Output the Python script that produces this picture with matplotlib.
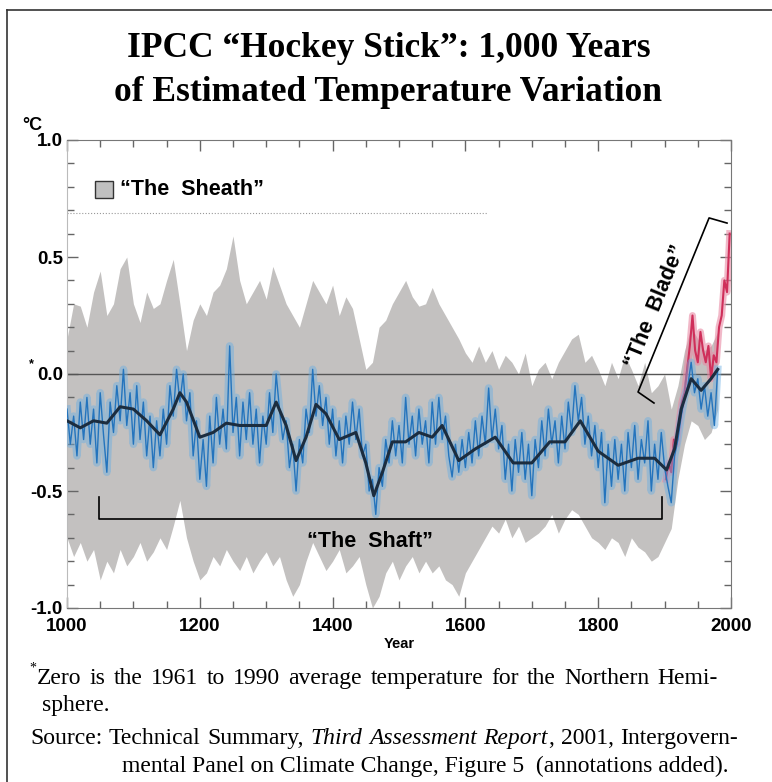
import numpy as np
import matplotlib.pyplot as plt
from matplotlib.patches import Rectangle
from matplotlib.lines import Line2D
from matplotlib.ticker import MultipleLocator

# annual reconstruction (read every 5 years)
years = np.arange(1000, 1985, 5)
recon = [-0.15, -0.30, -0.18, -0.35, -0.12, -0.28, -0.10, -0.30, -0.15, -0.38,
         -0.08, -0.26, -0.42, -0.12, -0.25, -0.05, -0.20, 0.02, -0.22, -0.08,
         -0.30, -0.05, -0.28, -0.12, -0.35, -0.18, -0.40, -0.20, -0.35, -0.15,
         -0.30, -0.05, -0.18, 0.02, -0.12, 0.00, -0.20, -0.08, -0.35, -0.20,
         -0.45, -0.28, -0.48, -0.18, -0.38, -0.10, -0.30, -0.15, -0.32, 0.12,
         -0.25, -0.10, -0.35, -0.12, -0.28, -0.08, -0.30, -0.15, -0.38, -0.18,
         -0.30, -0.08, -0.25, 0.00, -0.15, -0.28, -0.20, -0.40, -0.30, -0.50,
         -0.28, -0.38, -0.15, -0.25, 0.02, -0.18, -0.05, -0.22, -0.10, -0.30,
         -0.15, -0.35, -0.20, -0.38, -0.18, -0.30, -0.12, -0.28, -0.15, -0.35,
         -0.30, -0.50, -0.45, -0.60, -0.40, -0.48, -0.28, -0.38, -0.20, -0.35,
         -0.22, -0.38, -0.10, -0.30, -0.18, -0.35, -0.15, -0.30, -0.20, -0.38,
         -0.12, -0.30, -0.10, -0.28, -0.18, -0.35, -0.44, -0.30, -0.42, -0.28,
         -0.40, -0.25, -0.38, -0.20, -0.35, -0.18, -0.30, -0.06, -0.28, -0.15,
         -0.32, -0.22, -0.45, -0.30, -0.50, -0.28, -0.42, -0.25, -0.45, -0.30,
         -0.52, -0.28, -0.40, -0.20, -0.35, -0.15, -0.30, -0.20, -0.38, -0.18,
         -0.32, -0.12, -0.25, -0.05, -0.20, -0.10, -0.30, -0.18, -0.35, -0.22,
         -0.40, -0.25, -0.55, -0.30, -0.48, -0.28, -0.45, -0.30, -0.50, -0.25,
         -0.40, -0.22, -0.45, -0.28, -0.38, -0.20, -0.50, -0.30, -0.45, -0.25,
         -0.40, -0.48, -0.55, -0.35, -0.28, -0.18, -0.10, -0.05, 0.05, -0.08,
         -0.02, -0.15, -0.05, -0.18, -0.08, -0.22, 0.02]

# 40-year smoothed curve
smooth_years = [1000, 1020, 1040, 1060, 1080, 1100, 1120, 1140, 1160, 1170,
                1180, 1200, 1220, 1240, 1260, 1280, 1300, 1315, 1330, 1345,
                1360, 1375, 1390, 1410, 1435, 1450, 1462, 1475, 1490, 1510,
                1530, 1550, 1565, 1590, 1615, 1645, 1672, 1700, 1727, 1750,
                1773, 1800, 1830, 1860, 1885, 1903, 1915, 1925, 1940, 1955,
                1970, 1980]
smooth = [-0.20, -0.23, -0.20, -0.21, -0.14, -0.15, -0.20, -0.26, -0.15, -0.08,
          -0.12, -0.27, -0.25, -0.21, -0.22, -0.22, -0.22, -0.12, -0.22, -0.37,
          -0.27, -0.13, -0.17, -0.28, -0.25, -0.38, -0.52, -0.42, -0.29, -0.29,
          -0.25, -0.27, -0.22, -0.37, -0.32, -0.27, -0.38, -0.38, -0.29, -0.29,
          -0.20, -0.33, -0.39, -0.36, -0.36, -0.41, -0.32, -0.15, -0.02, -0.07,
          -0.02, 0.02]

# uncertainty range ("the sheath"), every 10 years
band_years = np.arange(1000, 1990, 10)
band_hi = [0.15, 0.30, 0.29, 0.20, 0.35, 0.44, 0.25, 0.30, 0.45, 0.50,
           0.30, 0.22, 0.35, 0.28, 0.30, 0.40, 0.49, 0.30, 0.10, 0.23,
           0.30, 0.25, 0.35, 0.38, 0.45, 0.59, 0.40, 0.30, 0.35, 0.40,
           0.32, 0.46, 0.38, 0.30, 0.25, 0.20, 0.30, 0.40, 0.35, 0.30,
           0.38, 0.25, 0.33, 0.28, 0.15, 0.02, 0.05, 0.20, 0.23, 0.30,
           0.35, 0.40, 0.33, 0.29, 0.30, 0.37, 0.30, 0.25, 0.20, 0.15,
           0.09, 0.05, 0.12, 0.05, 0.10, 0.02, 0.08, 0.05, 0.00, 0.09,
           -0.05, 0.02, 0.05, -0.02, 0.05, 0.10, 0.15, 0.17, 0.05, 0.08,
           0.02, -0.05, 0.05, -0.02, 0.08, 0.02, -0.05, 0.05, -0.08, -0.05,
           0.00, -0.15, -0.05, 0.10, 0.20, 0.15, 0.10, 0.12, 0.18]
band_lo = [-0.70, -0.78, -0.72, -0.80, -0.75, -0.88, -0.80, -0.85, -0.75, -0.82,
           -0.78, -0.72, -0.80, -0.76, -0.70, -0.75, -0.65, -0.54, -0.70, -0.80,
           -0.88, -0.85, -0.78, -0.82, -0.75, -0.80, -0.84, -0.78, -0.85, -0.80,
           -0.76, -0.82, -0.78, -0.88, -0.95, -0.90, -0.80, -0.72, -0.78, -0.84,
           -0.80, -0.75, -0.85, -0.82, -0.78, -0.90, -1.00, -0.95, -0.85, -0.80,
           -0.88, -0.82, -0.78, -0.85, -0.80, -0.85, -0.82, -0.88, -0.90, -0.95,
           -0.85, -0.80, -0.75, -0.70, -0.65, -0.68, -0.62, -0.70, -0.65, -0.72,
           -0.70, -0.68, -0.65, -0.60, -0.68, -0.62, -0.58, -0.60, -0.65, -0.70,
           -0.72, -0.75, -0.70, -0.72, -0.78, -0.70, -0.74, -0.76, -0.80, -0.78,
           -0.72, -0.66, -0.45, -0.30, -0.20, -0.22, -0.28, -0.25, -0.15]

# instrumental record
inst_years = [1902, 1906, 1910, 1914, 1918, 1922, 1926, 1930, 1934, 1938,
              1942, 1946, 1950, 1954, 1958, 1962, 1966, 1970, 1974, 1978,
              1982, 1986, 1990, 1994, 1998]
inst = [-0.45, -0.38, -0.42, -0.28, -0.30, -0.20, -0.12, -0.08, 0.02, 0.12,
        0.25, 0.10, 0.05, 0.18, 0.10, 0.05, 0.12, -0.02, 0.08, 0.05,
        0.20, 0.25, 0.40, 0.35, 0.60]

W, H = 772, 782
SANS = 'Liberation Sans'
SERIF = 'Liberation Serif'
NOTE_SIZE = 17


def fx(px):
    return px / W


def fy(py):
    return 1 - py / H


fig = plt.figure(figsize=(W / 100, H / 100), dpi=100)
ax = fig.add_axes([fx(67), fy(608), fx(731) - fx(67), fy(140) - fy(608)])

ax.fill_between(band_years, band_lo, band_hi, color='#c3c1c0', lw=0, zorder=1)
ax.axhline(0, color='#555555', lw=1.0, zorder=2)
ax.plot([1000, 1632], [0.69, 0.69], ls=':', color='#999999', lw=0.8, zorder=2)

ax.plot(inst_years, inst, color='#e88aa4', lw=5, alpha=0.6, zorder=3)
ax.plot(inst_years, inst, color='#cf2f5a', lw=1.5, zorder=3)
ax.plot(years, recon, color='#6aaee3', lw=5.5, alpha=0.45, zorder=4)
ax.plot(years, recon, color='#2474bd', lw=1.0, zorder=4)
ax.plot(smooth_years, smooth, color='#1c2d3f', lw=2.2, zorder=5)

ax.set_xlim(1000, 2000)
ax.set_ylim(-1.0, 1.0)

# sheath legend
ax.add_patch(Rectangle((1042, 0.752), 27, 0.073, facecolor='#c0c0c0',
                       edgecolor='#333333', lw=1, zorder=6))
ax.text(1080, 0.788, '\u201cThe  Sheath\u201d', fontsize=15.5, fontweight='bold',
        family=SANS, va='center', ha='left', zorder=6)

# shaft bracket
ax.plot([1048, 1048, 1896, 1896], [-0.525, -0.62, -0.62, -0.525],
        color='black', lw=1.2, zorder=6)
ax.text(1456, -0.714, '\u201cThe  Shaft\u201d', fontsize=15.5, fontweight='bold',
        family=SANS, ha='center', va='center', zorder=6)

# blade bracket
ax.plot([1884, 1860, 1967, 1994], [-0.124, -0.077, 0.667, 0.645],
        color='black', lw=1.2, zorder=6)
ax.text(1886, 0.29, '\u201cThe  Blade\u201d', fontsize=15.5, fontweight='bold',
        family=SANS, ha='center', va='center', rotation=67.8,
        rotation_mode='anchor', zorder=6)

# ticks
ax.xaxis.set_major_locator(MultipleLocator(200))
ax.xaxis.set_minor_locator(MultipleLocator(50))
ax.yaxis.set_minor_locator(MultipleLocator(0.1))
ax.tick_params(which='both', direction='in', top=True, right=True,
               color='#666666', width=1)
ax.tick_params(which='major', length=8)
ax.tick_params(which='minor', length=5)
ax.tick_params(axis='x', pad=7)
ax.tick_params(axis='y', pad=3)
ax.set_yticks([-1.0, -0.5, 0.0, 0.5, 1.0])
ax.set_yticklabels(['-1.0', '-0.5', '0.0', '0.5', '1.0'])
for lab in ax.get_xticklabels() + ax.get_yticklabels():
    lab.set_fontfamily(SANS)
    lab.set_fontweight('bold')
    lab.set_fontsize(13.5)
for side in ['top', 'bottom', 'right']:
    ax.spines[side].set_color('#777777')
ax.spines['left'].set_color('#bbbbbb')

ax.set_xlabel('Year', fontsize=10.5, fontweight='bold', family=SANS, labelpad=2)
fig.text(fx(29), fy(364), '*', fontsize=9, family=SANS, fontweight='bold',
         ha='left', va='center')
fig.text(fx(22), fy(125), '\u00b0C', fontsize=13, family=SANS,
         fontweight='bold', ha='left', va='center')

# title
fig.text(fx(389), fy(57), 'IPCC \u201cHockey Stick\u201d: 1,000 Years',
         fontsize=25.5, fontweight='bold', family=SERIF, ha='center', va='baseline')
fig.text(fx(388), fy(101), 'of Estimated Temperature Variation',
         fontsize=25.5, fontweight='bold', family=SERIF, ha='center', va='baseline')

# frame lines of the page
fig.add_artist(Line2D([fx(7), fx(7)], [fy(10), 0], color='#333333', lw=1.2))
fig.add_artist(Line2D([fx(7), 1], [fy(10), fy(10)], color='#333333', lw=1.2))

# notes (justified lines like the printed page)
renderer = fig.canvas.get_renderer()


def note_line(px_left, py, tokens, px_right):
    items, widths = [], []
    for tok in tokens:
        segs, w = [], 0
        for s, st in tok:
            t = fig.text(0, fy(py), s, fontsize=NOTE_SIZE, family=SERIF,
                         style=st, ha='left', va='baseline')
            sw = t.get_window_extent(renderer).width
            segs.append((t, sw))
            w += sw
        items.append(segs)
        widths.append(w)
    gap = (px_right - px_left - sum(widths)) / (len(tokens) - 1)
    x = px_left
    for segs, w in zip(items, widths):
        xx = x
        for t, sw in segs:
            t.set_x(fx(xx))
            xx += sw
        x += w + gap


def words(text, style='normal'):
    return [[(w, style)] for w in text.split(' ')]


fig.text(fx(29), fy(672), '*', fontsize=10, family=SERIF, ha='left', va='baseline')
note_line(37, 684, words('Zero is the 1961 to 1990 average temperature for the Northern Hemi-'),
          px_right=718)
fig.text(fx(42), fy(711), 'sphere.', fontsize=NOTE_SIZE, family=SERIF,
         ha='left', va='baseline')
note_line(30, 744, words('Source: Technical Summary,')
          + [[('Third', 'italic')], [('Assessment', 'italic')],
             [('Report', 'italic'), (',', 'normal')]]
          + words('2001, Intergovern-'), px_right=738)
fig.text(fx(122), fy(772), 'mental Panel on Climate Change, Figure 5  (annotations added).',
         fontsize=NOTE_SIZE, family=SERIF, ha='left', va='baseline')

fig.savefig('out.png', dpi=100)
